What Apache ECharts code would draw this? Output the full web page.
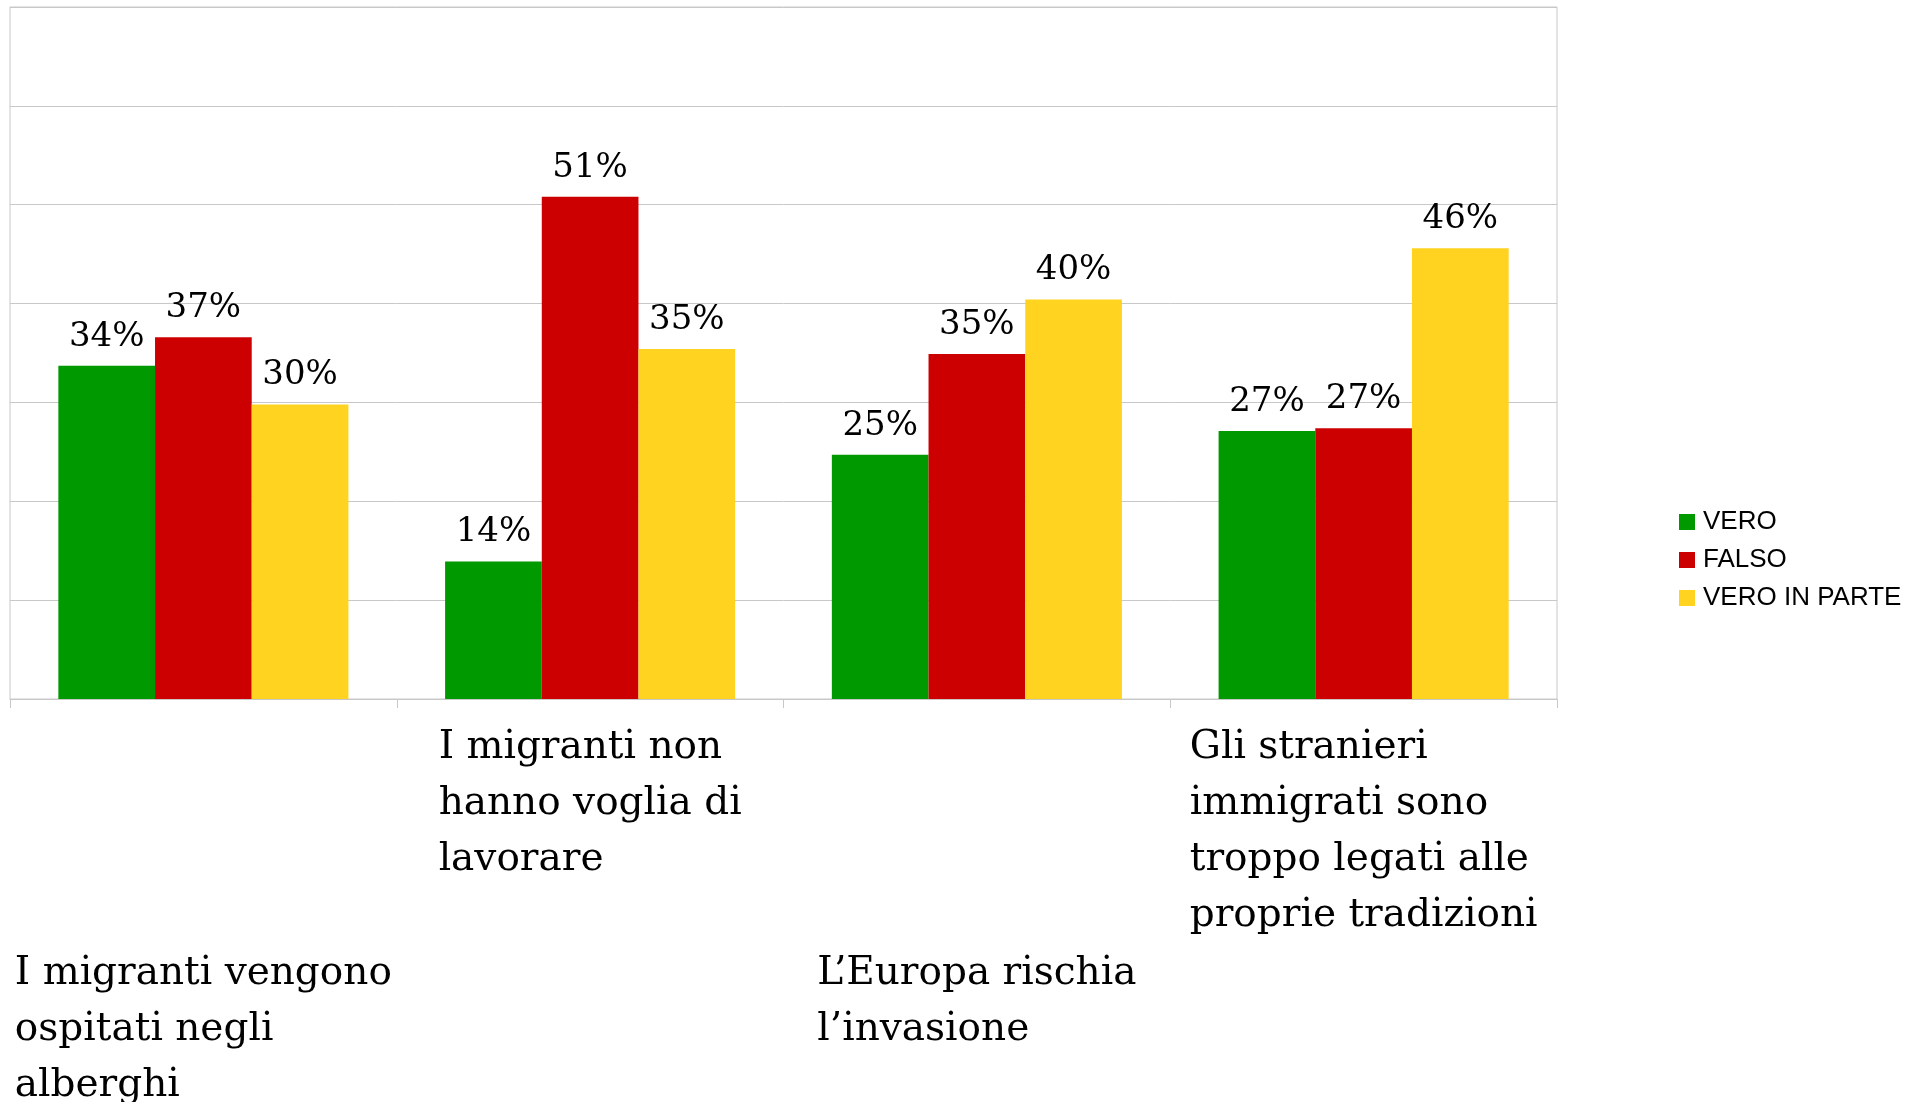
<!DOCTYPE html>
<html lang="it">
<head>
    <meta charset="UTF-8">
    <title>Vero / Falso</title>
    <script src="https://cdn.jsdelivr.net/npm/echarts@6/dist/echarts.min.js"></script>
    <style>
        html, body { margin: 0; padding: 0; background: #fff; }
        #chart { width: 1914px; height: 1102px; }
    </style>
</head>
<body>
    <div id="chart"></div>
    <script>
        // domande (le righe vanno a capo come nell'originale)
        var categories = [
            'I migranti vengono\nospitati negli\nalberghi',
            'I migranti non\nhanno voglia di\nlavorare',
            'L\u2019Europa rischia\nl\u2019invasione',
            'Gli stranieri\nimmigrati sono\ntroppo legati alle\nproprie tradizioni'
        ];
        var seriesNames = ['VERO', 'FALSO', 'VERO IN PARTE'];
        var vero = [0.337, 0.139, 0.247, 0.271];
        var falso = [0.366, 0.508, 0.349, 0.274];
        var veroInParte = [0.298, 0.354, 0.404, 0.456];
        var colors = ['#009900', '#cc0000', '#ffd320'];

        var myChart = echarts.init(document.getElementById('chart'));

        function barSeries(name, data, color) {
            return {
                name: name,
                type: 'bar',
                data: data,
                barGap: '0%',
                barCategoryGap: '25%',
                itemStyle: { color: color },
                label: {
                    show: true,
                    position: 'top',
                    distance: 12,
                    color: '#000',
                    fontFamily: 'DejaVu Serif',
                    fontSize: 34,
                    formatter: function (p) { return Math.round(p.value * 100) + '%'; }
                }
            };
        }

        var option = {
            animation: false,
            backgroundColor: '#fff',
            color: colors,
            grid: {
                left: 10,
                right: 357,
                top: 7,
                bottom: 403,
                outerBoundsMode: 'none',
                show: true,
                borderColor: '#c8c8c8',
                borderWidth: 1
            },
            legend: {
                orient: 'vertical',
                left: 1674,
                top: 504,
                icon: 'rect',
                itemWidth: 16,
                itemHeight: 16,
                itemGap: 12,
                data: seriesNames,
                textStyle: {
                    fontFamily: 'Liberation Sans',
                    fontSize: 26,
                    color: '#000',
                    padding: [0, 0, 0, 3]
                }
            },
            xAxis: {
                type: 'category',
                data: categories,
                axisLine: { show: true, lineStyle: { color: '#c8c8c8', width: 1 } },
                axisTick: { show: true, length: 9, lineStyle: { color: '#c8c8c8' } },
                axisLabel: {
                    interval: 0,
                    margin: 21,
                    hideOverlap: false,
                    formatter: function (value, index) {
                        var lines = value.split('\n').map(function (l) { return '{t|' + l + '}'; });
                        // etichette alternate spostate in basso di quattro righe
                        if (index % 2 === 0) lines.unshift('{gap| }');
                        return lines.join('\n');
                    },
                    rich: {
                        t: {
                            fontFamily: 'DejaVu Serif',
                            fontSize: 39,
                            lineHeight: 56,
                            color: '#000',
                            align: 'left'
                        },
                        gap: { fontSize: 10, lineHeight: 226 }
                    }
                }
            },
            yAxis: {
                type: 'value',
                min: 0,
                max: 0.7,
                interval: 0.1,
                axisLabel: { show: false },
                axisLine: { show: false },
                axisTick: { show: false },
                splitLine: { lineStyle: { color: '#c8c8c8', width: 1 } }
            },
            series: [
                barSeries(seriesNames[0], vero, colors[0]),
                barSeries(seriesNames[1], falso, colors[1]),
                barSeries(seriesNames[2], veroInParte, colors[2])
            ]
        };
        myChart.setOption(option);
    </script>
</body>
</html>
